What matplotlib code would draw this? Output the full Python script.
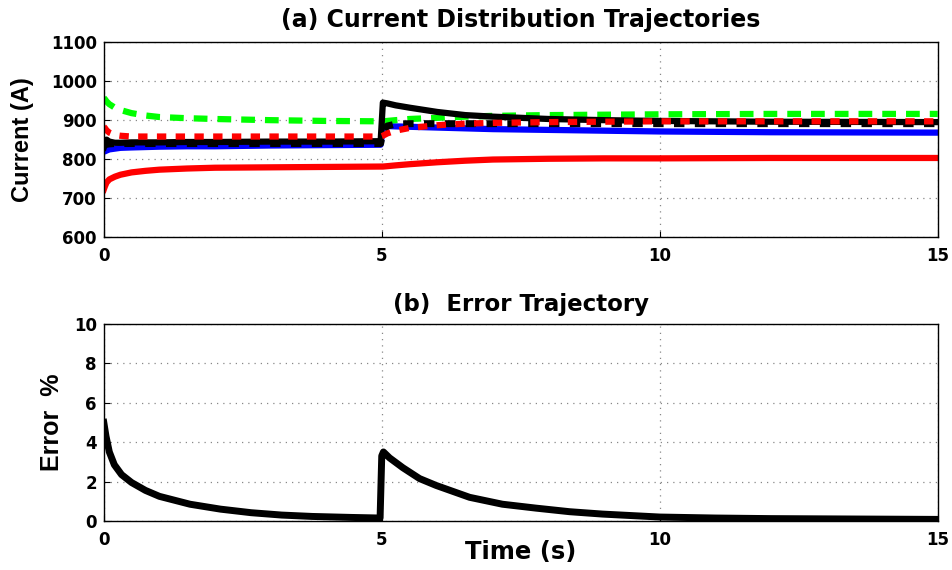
import matplotlib
matplotlib.use('Agg')
import matplotlib.pyplot as plt

# time base for the current trajectories (s)
t = [0, 0.02, 0.05, 0.1, 0.2, 0.3, 0.5, 0.75, 1, 1.5, 2, 3, 4, 4.98, 5.02, 5.1, 5.25,
     5.5, 6, 6.5, 7, 8, 9, 10, 12, 15]

# currents (A)
green_dd = [957, 954, 948, 941, 932, 926, 918, 912, 908, 905, 903, 900, 898, 897, 897, 898, 900,
            903, 906, 909, 911, 913, 914, 915, 916, 916]
red_dash = [883, 880, 874, 868, 862, 860, 858, 858, 858, 858, 858, 858, 858, 858, 860, 866, 873,
            880, 887, 891, 893, 895, 896, 897, 897, 897]
blue_sol = [819, 820, 822, 825, 827, 829, 830, 831, 832, 833, 833, 835, 836, 837, 882, 885, 884,
            883, 881, 879, 877, 875, 873, 871, 869, 868]
black_sol = [830, 840, 850, 845, 842, 842, 843, 843, 843, 844, 844, 845, 845, 846, 945, 943, 938,
             932, 921, 913, 909, 903, 900, 898, 896, 895]
black_dash = [835, 836, 838, 839, 840, 840, 840, 840, 840, 840, 840, 840, 840, 840, 870, 885, 890,
              891, 891, 891, 891, 891, 891, 891, 891, 891]
red_sol = [722, 730, 740, 748, 755, 760, 766, 770, 773, 776, 778, 779, 780, 781, 781, 782, 784,
           787, 792, 796, 799, 801, 802, 802, 803, 803]

# error trajectory (%)
t_err = [0, 0.04, 0.1, 0.19, 0.32, 0.5, 0.75, 1.0, 1.55, 2.1, 2.65, 3.2, 3.75, 4.45, 4.97,
         5.0, 5.03, 5.14, 5.38, 5.68, 5.98, 6.58, 7.17, 7.78, 8.38, 8.97, 10, 11, 12, 13.5, 15]
err = [5.0, 4.3, 3.5, 2.85, 2.35, 1.95, 1.55, 1.25, 0.85, 0.6, 0.42, 0.3, 0.23, 0.18, 0.15,
       3.3, 3.5, 3.2, 2.7, 2.15, 1.8, 1.2, 0.85, 0.65, 0.47, 0.35, 0.2, 0.15, 0.12, 0.1, 0.08]

wide = dict(family=['DejaVu Sans'], weight='bold')
arial = dict(family=['Liberation Sans', 'DejaVu Sans'], weight='bold')

fig = plt.figure(figsize=(9.52, 5.7), dpi=100)
ax1 = fig.add_axes([0.109, 0.584, 0.876, 0.342])
ax2 = fig.add_axes([0.109, 0.086, 0.876, 0.346])

# (a) currents
ax1.plot(t, red_sol, color='#ff0000', lw=4.5)
ax1.plot(t, blue_sol, color='#0000ff', lw=4.5)
ax1.plot(t, green_dd, color='#00ff00', lw=4.5, linestyle=(0, (2.2, 1.6)))
ax1.plot(t, black_sol, color='black', lw=4.5)
ax1.plot(t, black_dash, color='black', lw=5, linestyle=(0, (1.5, 1.5)))
ax1.plot(t, red_dash, color='#ff0000', lw=4.5, linestyle=(0, (1.5, 1.5)))

ax1.set_xlim(0, 15)
ax1.set_ylim(600, 1100)
ax1.set_xticks([0, 5, 10, 15])
ax1.set_yticks(range(600, 1101, 100))
ax1.set_title('(a) Current Distribution Trajectories', fontsize=17, pad=11, **wide)
ax1.set_ylabel('Current (A)', fontsize=17, labelpad=12, **arial)

# (b) error
ax2.plot(t_err, err, color='black', lw=5)
ax2.set_xlim(0, 15)
ax2.set_ylim(0, 10)
ax2.set_xticks([0, 5, 10, 15])
ax2.set_yticks(range(0, 11, 2))
ax2.set_title('(b)  Error Trajectory', fontsize=16.5, pad=9, **wide)
ax2.set_ylabel('Error  %', fontsize=18, labelpad=7, **arial)
ax2.set_xlabel('Time (s)', fontsize=17.5, labelpad=-6, **wide)

for ax in (ax1, ax2):
    ax.grid(True, color='#888888', linestyle=(0, (1, 4)), linewidth=0.9)
    ax.tick_params(direction='in', length=4, width=0.8, labelsize=12)
    ax.tick_params(axis='x', pad=7)
    ax.tick_params(axis='y', pad=5)
    for lab in ax.get_xticklabels() + ax.get_yticklabels():
        lab.set_fontfamily(['DejaVu Sans'])
        lab.set_fontweight('bold')
    for s in ax.spines.values():
        s.set_linewidth(1.0)

fig.savefig('out.png', dpi=100)
